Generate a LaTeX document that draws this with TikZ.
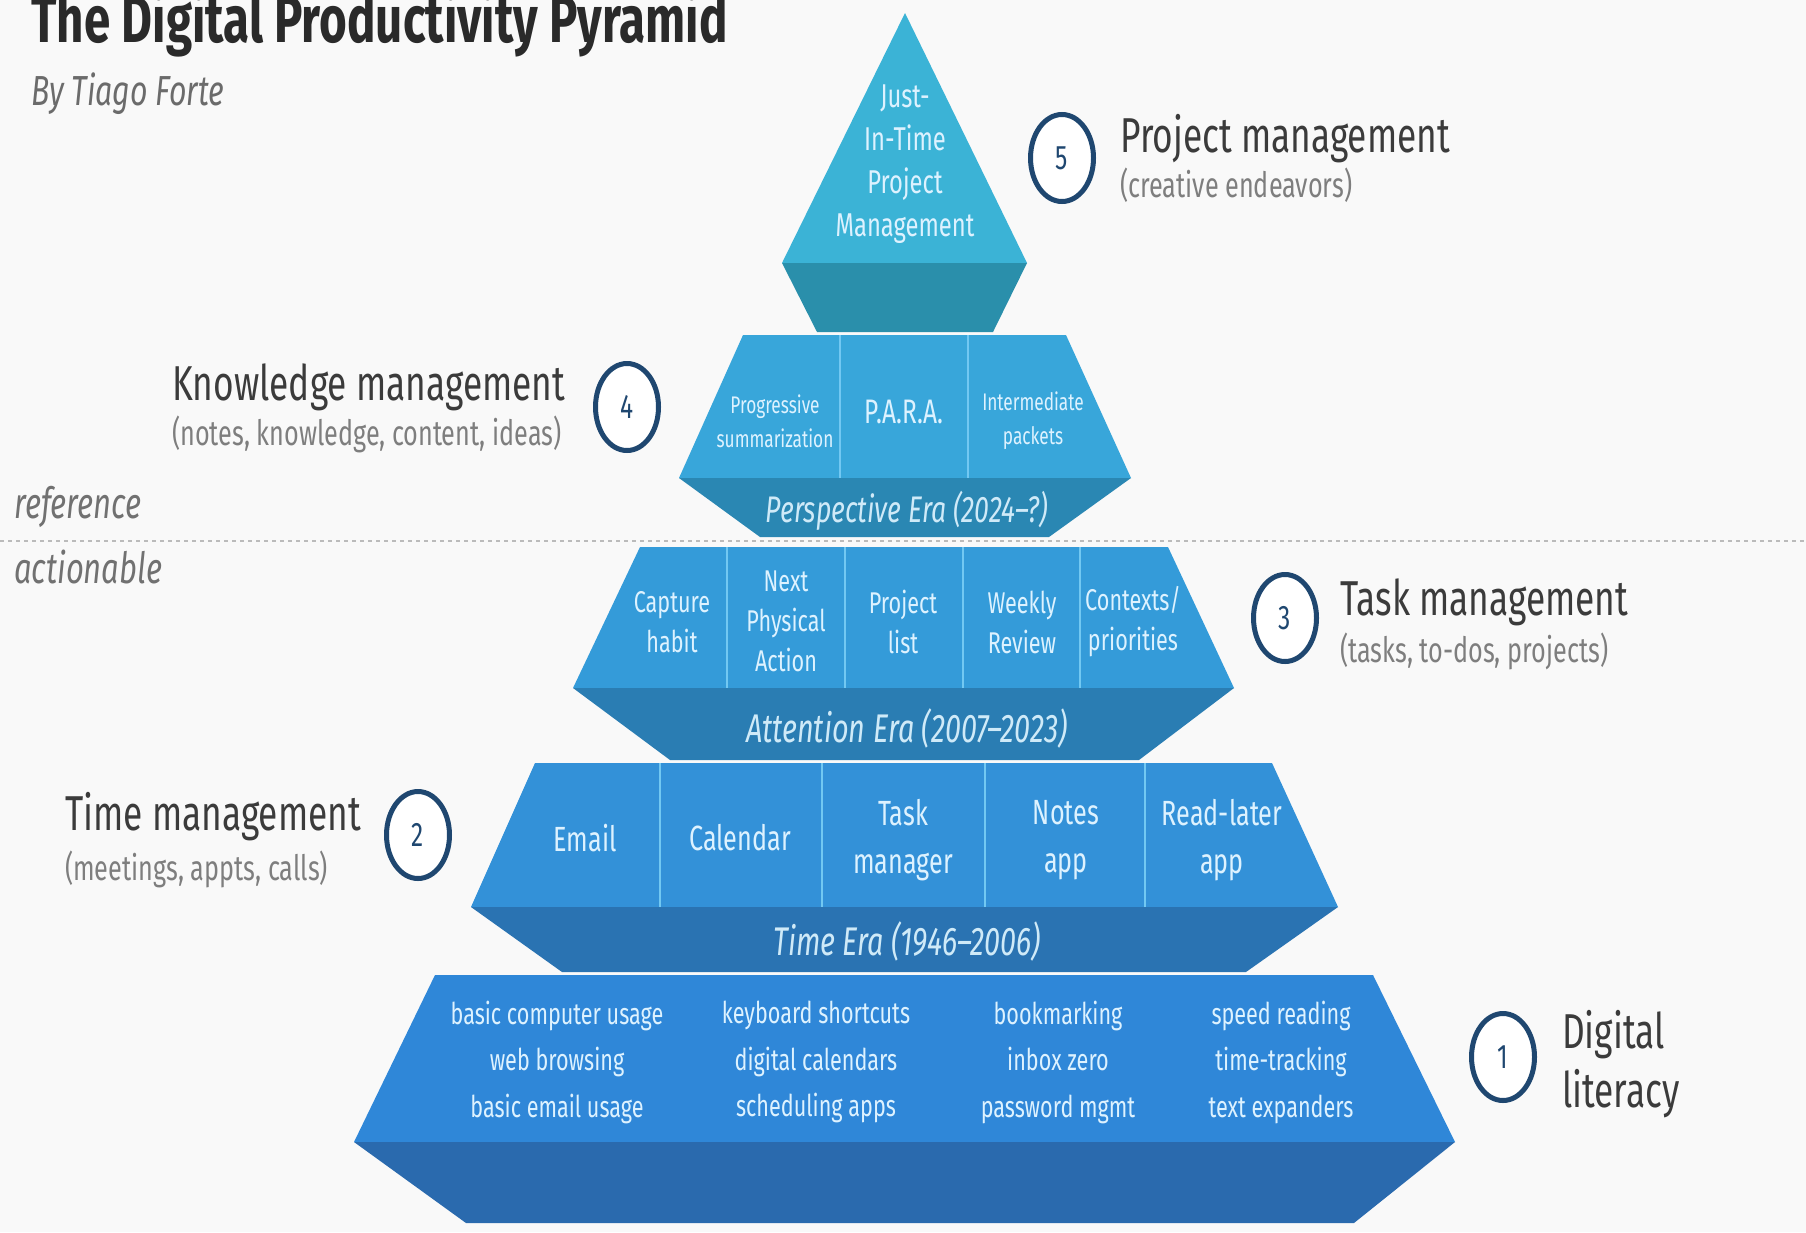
\documentclass[tikz,border=0pt]{standalone}
\usepackage{fontspec}
\setmainfont{Fira Sans}[FakeStretch=0.72]
\usetikzlibrary{shapes.geometric}
\definecolor{bgc}{HTML}{F9F9F9}
\definecolor{titlec}{HTML}{2A2A2A}
\definecolor{headc}{HTML}{3B3B3B}
\definecolor{subc}{HTML}{7E7E7E}
\definecolor{navy}{HTML}{1F4770}
\definecolor{cellc}{HTML}{DDF2FF}
\definecolor{erac}{HTML}{CFEAF8}
\definecolor{divc}{HTML}{72C8F2}
\definecolor{dotc}{HTML}{BBBBBB}
\definecolor{lfivel}{HTML}{3BB3D6}
\definecolor{lfived}{HTML}{2A8FAB}
\definecolor{lfourl}{HTML}{38A6DA}
\definecolor{lfourd}{HTML}{2A87B3}
\definecolor{lthreel}{HTML}{349BD9}
\definecolor{lthreed}{HTML}{2A7DB3}
\definecolor{ltwol}{HTML}{3391D8}
\definecolor{ltwod}{HTML}{2A73B2}
\definecolor{lonel}{HTML}{2F87D8}
\definecolor{loned}{HTML}{2A6AAE}
\begin{document}
\begin{tikzpicture}[x=1pt,y=-1pt,
  head/.style={anchor=base west,inner sep=0,text=headc,font=\fontsize{49}{56}\selectfont},
  sub/.style={anchor=base west,inner sep=0,text=subc,font=\fontsize{35}{40}\selectfont},
  side/.style={anchor=base west,inner sep=0,text=subc!90!black,font=\itshape\fontsize{43}{48}\selectfont},
  numc/.style={ellipse,draw=navy,line width=5pt,fill=white,minimum width=63pt,minimum height=87pt,inner sep=0,text=navy,font=\fontsize{34}{34}\selectfont},
  cellfive/.style={align=center,inner sep=0,text=cellc,font=\fontsize{33}{43}\selectfont},
  cellsmall/.style={align=center,inner sep=0,text=cellc,font=\fontsize{24}{34}\selectfont},
  cellthree/.style={align=center,inner sep=0,text=cellc,font=\fontsize{30}{40}\selectfont},
  celltwo/.style={align=center,inner sep=0,text=cellc,font=\fontsize{35}{48}\selectfont},
  cellone/.style={align=center,inner sep=0,text=cellc,font=\fontsize{30}{46.5}\selectfont},
  era/.style={inner sep=0,text=erac,font=\itshape\fontsize{40}{44}\selectfont},
  divider/.style={draw=divc,line width=2.5pt}]
\useasboundingbox (0,0) rectangle (1806,1232);
\fill[bgc] (0,0) rectangle (1806,1232);

% title
\node[anchor=base west,inner sep=0,text=titlec,font=\bfseries\fontsize{66}{72}\selectfont] (title) at (31,42) {The Digital Productivity Pyramid};
\node[anchor=base west,inner sep=0,text=subc!85!black,font=\itshape\fontsize{42}{48}\selectfont] (byline) at (31,105) {By Tiago Forte};

% dotted separator
\coordinate (sepL) at (0,541);
\coordinate (sepR) at (1806,541);
\draw[dotc,line width=2.2pt,dash pattern=on 4pt off 4pt] (sepL) -- (sepR);
\node[side] (ref) at (14,518) {reference};
\node[side] (act) at (14,583) {actionable};

% level 5
\fill[lfivel] (905,13) -- (1027,263) -- (782,263) -- cycle;
\fill[lfived] (782,263) -- (1027,263) -- (993,332) -- (817,332) -- cycle;
% level 4
\fill[lfourl] (743,335) -- (1066,335) -- (1131,478) -- (679,478) -- cycle;
\fill[lfourd] (679,478) -- (1131,478) -- (1049,537) -- (760,537) -- cycle;
\draw[divider] (840,335) -- (840,478);
\draw[divider] (968,335) -- (968,478);
% level 3
\fill[lthreel] (640,547) -- (1168,547) -- (1234,688) -- (573,688) -- cycle;
\fill[lthreed] (573,688) -- (1234,688) -- (1139,760) -- (670,760) -- cycle;
\foreach \xx in {727,845,963,1080} \draw[divider] (\xx,547) -- (\xx,688);
% level 2
\fill[ltwol] (535,763) -- (1272,763) -- (1338,907) -- (471,907) -- cycle;
\fill[ltwod] (471,907) -- (1338,907) -- (1246,972) -- (562,972) -- cycle;
\foreach \xx in {660,822,985,1145} \draw[divider] (\xx,763) -- (\xx,907);
% level 1
\fill[lonel] (435,975) -- (1373,975) -- (1455,1142) -- (354,1142) -- cycle;
\fill[loned] (354,1142) -- (1455,1142) -- (1354,1223) -- (466,1223) -- cycle;

% level 5 text
\node[cellfive] (jit) at (905,164) {Just-\\In-Time\\Project\\Management};
% level 4 text
\node[cellsmall] (prog) at (775,421) {Progressive\\summarization};
\node[inner sep=0,text=cellc,font=\fontsize{34}{40}\selectfont] (para) at (904,412) {P.A.R.A.};
\node[cellsmall] (ip) at (1033,421) {Intermediate\\packets};
\node[era,font=\itshape\fontsize{37}{42}\selectfont] (persp) at (907,511) {Perspective Era (2024–?)};
% level 3 text
\node[cellthree] (cap) at (672,622) {Capture\\habit};
\node[cellthree] (npa) at (786,621) {Next\\Physical\\Action};
\node[cellthree] (pl) at (903,622) {Project\\list};
\node[cellthree] (wr) at (1022,622) {Weekly\\Review};
\node[cellthree] (cp) at (1133,622) {Contexts/\\priorities};
\node[era] (att) at (907,728) {Attention Era (2007–2023)};
% level 2 text
\node[celltwo] (email) at (585,838) {Email};
\node[celltwo] (cal) at (740,838) {Calendar};
\node[celltwo] (tm) at (903,840) {Task\\manager};
\node[celltwo] (na) at (1066,840) {Notes\\app};
\node[celltwo] (rl) at (1222,840) {Read-later\\app};
\node[era] (time) at (907,941) {Time Era (1946–2006)};
% level 1 text
\node[cellone] (c1) at (557,1062) {basic computer usage\\web browsing\\basic email usage};
\node[cellone] (c2) at (816,1062) {keyboard shortcuts\\digital calendars\\scheduling apps};
\node[cellone] (c3) at (1058,1062) {bookmarking\\inbox zero\\password mgmt};
\node[cellone] (c4) at (1281,1062) {speed reading\\time-tracking\\text expanders};

% numbered circles and labels
\node[numc] (n5) at (1062,158) {5};
\node[head] (h5) at (1120,152) {Project management};
\node[sub] (s5) at (1120,197) {(creative endeavors)};

\node[numc] (n4) at (627,407) {4};
\node[head] (h4) at (172,400) {Knowledge management};
\node[sub] (s4) at (172,445) {(notes, knowledge, content, ideas)};

\node[numc] (n3) at (1285,618) {3};
\node[head] (h3) at (1340,615) {Task management};
\node[sub] (s3) at (1340,662) {(tasks, to-dos, projects)};

\node[numc] (n2) at (418,835) {2};
\node[head] (h2) at (65,830) {Time management};
\node[sub] (s2) at (65,880) {(meetings, appts, calls)};

\node[numc] (n1) at (1503,1057) {1};
\node[head] (h1a) at (1562,1048) {Digital};
\node[head] (h1b) at (1562,1107) {literacy};
\end{tikzpicture}
\end{document}
